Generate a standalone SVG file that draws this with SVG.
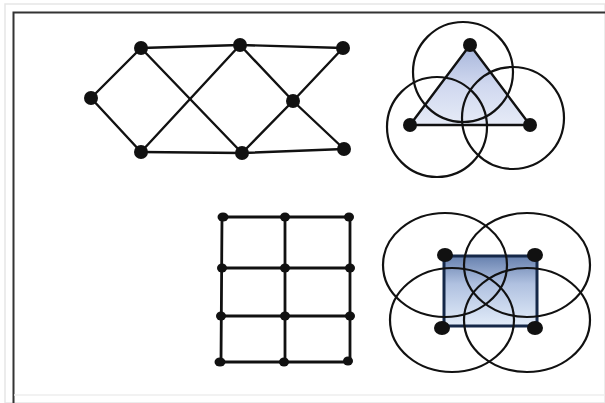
<svg xmlns="http://www.w3.org/2000/svg" width="605" height="403" viewBox="0 0 605 403">
<defs>
<linearGradient id="triFill" x1="0" y1="0" x2="0" y2="1">
<stop offset="0" stop-color="#a6b5da"/>
<stop offset="0.5" stop-color="#d0d8ef"/>
<stop offset="1" stop-color="#e6ebf7"/>
</linearGradient>
<linearGradient id="sqFill" x1="0" y1="0" x2="0" y2="1">
<stop offset="0" stop-color="#6680ae"/>
<stop offset="0.4" stop-color="#b0c1e0"/>
<stop offset="1" stop-color="#e2ecf9"/>
</linearGradient>
<style>
.edge{stroke:#111;stroke-width:2.4;fill:none;stroke-linecap:round}
.node{fill:#111}
.ring{fill:none;stroke:#111;stroke-width:2.2}
.sq{stroke:#152848;stroke-width:3;fill:url(#sqFill)}
</style>
</defs>
<rect width="605" height="403" fill="#fff"/>
<rect x="5" y="4" width="600" height="399" fill="none" stroke="#e6e6e6" stroke-width="1.5"/>
<path d="M13.5 403 V12.5 H605" fill="none" stroke="#333" stroke-width="2"/>
<line x1="14" y1="395" x2="605" y2="395" stroke="#eee" stroke-width="1.5"/>

<g id="connectors">
<g id="mesh-edges" class="edge">
<line x1="141" y1="48" x2="240" y2="45"/>
<line x1="240" y1="45" x2="343" y2="48"/>
<line x1="91" y1="98" x2="141" y2="48"/>
<line x1="91" y1="98" x2="141" y2="152"/>
<line x1="141" y1="48" x2="242" y2="153"/>
<line x1="240" y1="45" x2="141" y2="152"/>
<line x1="240" y1="45" x2="293" y2="101"/>
<line x1="293" y1="101" x2="343" y2="48"/>
<line x1="293" y1="101" x2="242" y2="153"/>
<line x1="293" y1="101" x2="344" y2="149"/>
<line x1="141" y1="152" x2="242" y2="153"/>
<line x1="242" y1="153" x2="344" y2="149"/>
</g>
<g id="grid-edges" class="edge" style="stroke-width:2.8">
<line x1="221" y1="217" x2="350" y2="217"/>
<line x1="221" y1="268" x2="350" y2="268"/>
<line x1="221" y1="316" x2="350" y2="316"/>
<line x1="221" y1="362" x2="350" y2="362"/>
<line x1="222" y1="217" x2="221" y2="362"/>
<line x1="285" y1="217" x2="285" y2="362"/>
<line x1="350" y1="217" x2="350" y2="362"/>
</g>
</g>

<g id="mesh-nodes">
<g id="m1"><circle class="node" cx="141" cy="48" r="7"/></g>
<g id="m2"><circle class="node" cx="240" cy="45" r="7"/></g>
<g id="m3"><circle class="node" cx="343" cy="48" r="7"/></g>
<g id="m4"><circle class="node" cx="91" cy="98" r="7"/></g>
<g id="m5"><circle class="node" cx="293" cy="101" r="7"/></g>
<g id="m6"><circle class="node" cx="141" cy="152" r="7"/></g>
<g id="m7"><circle class="node" cx="242" cy="153" r="7"/></g>
<g id="m8"><circle class="node" cx="344" cy="149" r="7"/></g>
</g>

<g id="grid-nodes">
<g id="g11"><ellipse class="node" cx="223" cy="217" rx="5.5" ry="4.5"/></g>
<g id="g12"><ellipse class="node" cx="285" cy="217" rx="5" ry="4.5"/></g>
<g id="g13"><ellipse class="node" cx="349" cy="217" rx="5" ry="4.5"/></g>
<g id="g21"><ellipse class="node" cx="222" cy="268" rx="5" ry="4.5"/></g>
<g id="g22"><ellipse class="node" cx="285" cy="268" rx="5" ry="4.5"/></g>
<g id="g23"><ellipse class="node" cx="350" cy="268" rx="5" ry="4.5"/></g>
<g id="g31"><ellipse class="node" cx="221" cy="316" rx="5" ry="4.5"/></g>
<g id="g32"><ellipse class="node" cx="285" cy="316" rx="5" ry="4.5"/></g>
<g id="g33"><ellipse class="node" cx="350" cy="316" rx="5" ry="4.5"/></g>
<g id="g41"><ellipse class="node" cx="220" cy="362" rx="5.5" ry="4.5"/></g>
<g id="g42"><ellipse class="node" cx="284" cy="362" rx="5" ry="4.5"/></g>
<g id="g43"><ellipse class="node" cx="348" cy="361" rx="5" ry="4.5"/></g>
</g>

<g id="triangle-panel">
<polygon points="470,45 410,125 530,125" fill="url(#triFill)"/>
<g class="edge" style="stroke-width:2.4">
<line x1="470" y1="45" x2="410" y2="125"/>
<line x1="470" y1="45" x2="530" y2="125"/>
<line x1="410" y1="125" x2="530" y2="125"/>
</g>
<circle class="ring" cx="463" cy="72" r="50"/>
<circle class="ring" cx="437" cy="127" r="50"/>
<circle class="ring" cx="513" cy="118" r="51"/>
<g id="t1"><circle class="node" cx="470" cy="45" r="7"/></g>
<g id="t2"><circle class="node" cx="410" cy="125" r="7"/></g>
<g id="t3"><circle class="node" cx="530" cy="125" r="7"/></g>
</g>

<g id="square-panel">
<rect class="sq" x="444" y="256" width="93" height="70"/>
<ellipse class="ring" cx="445" cy="265" rx="62" ry="52"/>
<ellipse class="ring" cx="527" cy="265" rx="63" ry="52"/>
<ellipse class="ring" cx="452" cy="320" rx="62" ry="52"/>
<ellipse class="ring" cx="527" cy="320" rx="63" ry="52"/>
<g id="s1"><ellipse class="node" cx="445" cy="255" rx="8" ry="7" fill="#0e1628"/></g>
<g id="s2"><ellipse class="node" cx="535" cy="255" rx="8" ry="7"/></g>
<g id="s3"><ellipse class="node" cx="442" cy="328" rx="8" ry="7"/></g>
<g id="s4"><ellipse class="node" cx="535" cy="328" rx="8" ry="7"/></g>
</g>
</svg>
